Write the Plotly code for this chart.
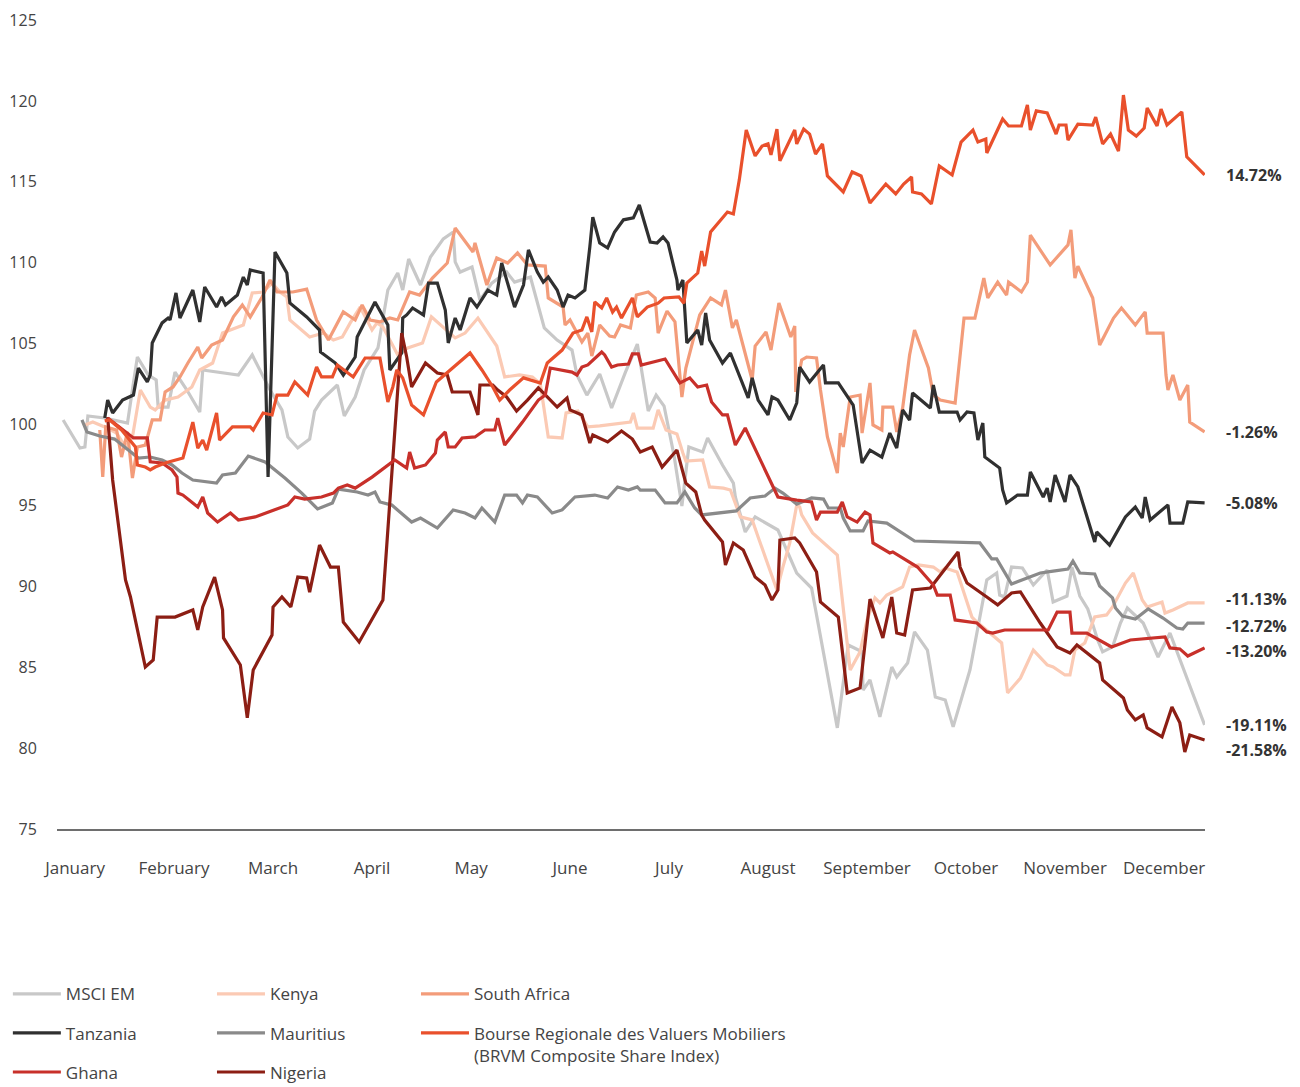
import plotly.graph_objects as go

# ---------------- data (x = month position, 0 = January ... 11 = December; y = index level) -------------
months = ["January", "February", "March", "April", "May", "June", "July",
          "August", "September", "October", "November", "December"]

msci_t = [-0.12,-0.03,0.05,0.10,0.13,0.30,0.53,0.59,0.63,0.74,0.82,0.84,0.94,1.01,1.13,1.26,1.29,1.65,1.79,1.97,2.09,2.15,2.25,2.37,2.42,2.49,2.65,2.72,2.83,2.92,3.06,3.16,3.26,3.31,3.37,3.49,3.59,3.72,3.82,3.84,3.89,4.01,4.09,4.21,4.36,4.44,4.60,4.74,4.87,5.02,5.07,5.17,5.30,5.42,5.56,5.68,5.79,5.87,5.95,6.05,6.13,6.20,6.34,6.39,6.54,6.65,6.67,6.77,6.87,7.10,7.29,7.44,7.70,7.81,7.95,7.96,8.03,8.13,8.25,8.30,8.41,8.48,8.61,8.69,8.79,8.87,9.04,9.21,9.31,9.34,9.39,9.46,9.57,9.68,9.82,9.88,10.02,10.07,10.15,10.23,10.33,10.38,10.48,10.56,10.63,10.79,10.94,11.06,11.41]
msci_v = [100.28,99.35,98.55,98.61,100.53,100.4,100.09,102.57,104.17,103.06,102.75,101.08,101.08,103.24,102.13,100.77,103.37,103.06,104.3,102.13,100.9,99.23,98.55,99.1,100.83,101.51,102.44,100.53,101.7,103.37,104.73,108.31,109.36,108.31,110.23,108.62,110.35,111.47,111.9,110.05,109.42,109.73,107.69,108.74,109.42,108.8,109.11,105.97,105.22,104.6,103.06,101.82,103.12,101.02,103.24,104.97,100.83,101.82,101.14,98.11,94.96,98.61,98.3,99.17,97.5,96.38,95.52,93.36,94.29,93.48,90.82,89.89,81.25,86.37,85.95,83.59,84.21,81.93,85.01,84.39,85.26,87.18,86.06,83.16,82.97,81.31,84.83,90.39,90.82,89.46,89.34,91.19,91.13,90.08,91.01,89.03,89.4,91.19,89.4,88.6,86.68,85.95,86.25,87.73,88.66,87.73,85.63,87.11,81.43]

kenya_t = [0.10,0.18,0.30,0.42,0.51,0.58,0.66,0.76,0.81,0.91,1.04,1.18,1.26,1.39,1.49,1.70,1.79,1.90,1.99,2.07,2.14,2.17,2.37,2.51,2.61,2.70,2.78,2.88,3.00,3.05,3.11,3.26,3.36,3.51,3.60,3.72,3.84,3.94,4.07,4.26,4.34,4.49,4.62,4.70,4.78,4.92,4.96,5.08,5.18,5.30,5.53,5.61,5.64,5.68,5.84,5.89,5.97,6.08,6.14,6.17,6.34,6.41,6.55,6.62,6.72,6.84,6.90,7.09,7.15,7.22,7.29,7.32,7.34,7.45,7.70,7.83,7.93,8.00,8.08,8.13,8.20,8.36,8.43,8.52,8.67,8.74,8.79,8.91,8.97,9.06,9.11,9.36,9.42,9.55,9.68,9.82,9.88,10.00,10.05,10.10,10.20,10.30,10.42,10.48,10.61,10.69,10.78,10.83,10.98,11.01,11.09,11.24,11.41]
kenya_v = [99.97,100.15,99.85,99.47,98.61,99.23,102.13,101.08,100.9,101.51,101.7,102.32,103.37,103.8,105.65,106.15,108.13,108.19,108.74,108.19,107.88,106.46,105.41,105.65,105.22,105.41,106.28,107.26,105.84,106.28,106.03,104.3,104.73,105.04,106.65,106.03,105.35,105.65,106.58,104.85,102.94,103.06,102.94,102.51,99.23,99.17,100.71,100.83,99.85,99.91,100.09,100.15,100.71,99.78,99.78,100.9,99.66,99.41,98.24,97.74,97.81,96.14,96.07,95.95,94.29,94.1,93.05,89.77,91.19,92.68,95.03,94.9,94.41,93.3,91.93,84.83,85.95,87.92,89.28,88.97,89.46,89.96,91.19,91.32,91.19,90.88,91.13,90.88,89.77,88.1,87.79,86.5,83.41,84.33,86.06,85.14,85.01,84.52,84.52,86.06,86.5,88.1,88.23,88.72,90.2,90.82,89.15,88.72,89.03,88.35,88.54,88.97,88.97]

safrica_t = [0.25,0.28,0.31,0.42,0.47,0.53,0.58,0.63,0.71,0.78,0.86,0.91,0.99,1.06,1.14,1.24,1.28,1.38,1.49,1.60,1.69,1.77,1.89,1.97,2.04,2.20,2.34,2.44,2.56,2.63,2.71,2.83,2.90,2.98,3.08,3.18,3.26,3.38,3.48,3.61,3.76,3.84,3.91,4.02,4.04,4.16,4.26,4.37,4.47,4.57,4.75,4.78,4.93,4.95,5.00,5.12,5.18,5.22,5.30,5.40,5.45,5.51,5.61,5.67,5.79,5.86,5.89,5.98,6.06,6.13,6.17,6.31,6.42,6.53,6.57,6.64,6.68,6.84,6.87,6.98,7.03,7.11,7.23,7.27,7.28,7.34,7.39,7.49,7.53,7.60,7.70,7.73,7.76,7.83,7.93,7.95,8.03,8.06,8.15,8.16,8.26,8.30,8.36,8.43,8.48,8.62,8.67,8.74,8.89,8.98,9.09,9.18,9.22,9.32,9.41,9.43,9.56,9.62,9.65,9.85,10.03,10.06,10.10,10.13,10.28,10.35,10.49,10.57,10.71,10.81,10.83,10.99,11.02,11.04,11.09,11.16,11.24,11.26,11.41]
safrica_v = [99.66,96.76,99.85,99.66,97.99,99.54,96.69,98.61,98.73,100.28,100.28,102.01,102.32,102.94,103.8,104.79,104.11,104.91,105.22,106.65,107.39,106.65,107.88,108.93,108.19,108.19,108.37,106.46,105.22,106.03,106.96,106.46,107.39,106.46,106.34,106.58,106.46,108.19,108.0,109.05,109.98,112.14,111.59,110.66,111.22,108.62,110.29,109.98,110.6,109.86,109.79,107.82,107.26,106.15,106.46,105.1,105.65,104.23,106.15,105.47,105.41,106.15,105.97,108.0,108.19,107.82,105.65,107.01,106.34,101.7,103.49,106.77,107.82,107.39,108.31,105.97,106.46,102.75,104.85,105.72,104.6,107.51,105.41,106.09,102.01,103.99,104.17,104.11,102.13,99.23,97.0,99.47,98.61,101.7,101.82,99.47,102.57,99.97,99.66,101.08,101.08,99.54,101.02,104.3,105.84,103.49,101.82,101.51,101.33,106.58,106.58,109.05,107.82,108.8,108.0,108.8,108.19,108.8,111.71,109.86,111.1,112.03,109.05,109.79,107.82,104.91,106.58,107.2,106.15,106.96,105.65,105.65,103.06,102.13,103.06,101.51,102.44,100.15,99.54]

mauritius_t = [0.07,0.12,0.25,0.40,0.64,0.76,0.88,0.98,1.08,1.19,1.43,1.49,1.62,1.75,1.92,2.12,2.29,2.45,2.60,2.66,2.85,2.96,3.03,3.08,3.20,3.40,3.49,3.66,3.82,3.94,4.04,4.11,4.24,4.34,4.46,4.52,4.57,4.67,4.82,4.92,5.05,5.25,5.38,5.48,5.59,5.68,5.71,5.86,5.96,6.08,6.16,6.26,6.33,6.68,6.82,6.97,7.07,7.15,7.29,7.44,7.56,7.61,7.73,7.76,7.83,7.96,8.01,8.20,8.48,9.14,9.26,9.31,9.46,9.75,9.88,10.03,10.08,10.15,10.30,10.35,10.48,10.51,10.58,10.71,10.84,10.99,11.13,11.19,11.24,11.41]
mauritius_v = [100.28,99.54,99.29,99.1,97.93,97.99,97.81,97.5,97.0,96.57,96.38,96.88,97.0,98.05,97.68,96.69,95.76,94.78,95.15,96.01,95.83,95.64,95.83,95.21,95.02,93.97,94.22,93.6,94.72,94.53,94.22,94.84,93.97,95.64,95.64,95.15,95.64,95.52,94.53,94.72,95.52,95.64,95.46,96.14,95.95,96.14,95.95,95.95,95.15,95.15,95.83,94.84,94.41,94.66,95.46,95.58,96.07,95.76,95.08,95.46,95.39,94.84,94.84,94.22,93.42,93.42,94.04,93.91,92.8,92.68,91.69,91.69,90.14,90.82,90.94,91.07,91.56,90.82,90.76,90.02,89.28,88.66,88.16,87.98,88.6,88.04,87.42,87.36,87.73,87.73]

tanzania_t = [0.30,0.33,0.38,0.48,0.59,0.64,0.73,0.76,0.78,0.88,0.94,0.96,1.02,1.06,1.19,1.26,1.31,1.43,1.48,1.52,1.64,1.70,1.74,1.77,1.90,1.95,2.02,2.14,2.17,2.34,2.47,2.48,2.63,2.71,2.83,2.85,3.03,3.16,3.18,3.30,3.31,3.35,3.41,3.52,3.57,3.66,3.74,3.77,3.84,3.89,3.99,4.06,4.17,4.26,4.31,4.37,4.44,4.53,4.58,4.67,4.73,4.78,4.87,4.93,4.98,5.05,5.15,5.20,5.23,5.30,5.38,5.45,5.54,5.64,5.70,5.81,5.88,5.94,5.99,6.08,6.09,6.14,6.18,6.29,6.33,6.37,6.41,6.54,6.62,6.80,6.84,6.90,7.00,7.04,7.10,7.22,7.29,7.32,7.42,7.56,7.58,7.71,7.86,7.95,8.03,8.15,8.23,8.30,8.36,8.43,8.46,8.64,8.67,8.73,8.91,8.94,9.01,9.08,9.12,9.17,9.19,9.34,9.37,9.41,9.52,9.62,9.65,9.78,9.82,9.85,9.90,10.00,10.05,10.13,10.30,10.32,10.45,10.61,10.71,10.78,10.81,10.86,11.04,11.06,11.19,11.24,11.41]
tanzania_v = [100.4,101.51,100.71,101.51,101.82,103.49,102.63,103.06,105.04,106.28,106.58,106.46,108.13,106.58,108.31,106.34,108.5,107.26,107.88,107.39,108.0,109.11,108.62,109.55,109.36,96.76,110.66,109.36,107.51,106.65,105.84,104.48,103.8,103.06,104.17,105.41,107.57,106.15,103.37,104.42,106.58,106.77,107.2,106.77,108.74,108.74,107.08,105.04,106.58,105.84,107.82,107.26,108.31,108.0,109.98,108.8,107.26,108.62,110.79,109.42,108.8,109.11,108.31,107.26,108.0,107.82,108.31,110.97,112.82,111.22,110.91,111.9,112.65,112.77,113.57,111.28,111.22,111.59,111.22,108.93,108.31,108.93,105.04,105.84,104.91,106.89,105.22,103.8,104.42,101.64,102.88,101.51,100.59,101.7,101.51,100.28,101.33,103.55,102.63,103.68,102.57,102.57,101.2,97.62,98.42,97.99,99.47,98.55,100.9,100.28,101.95,101.02,102.44,100.77,100.77,100.28,100.77,100.71,99.04,100.09,97.99,97.31,95.95,95.15,95.64,95.64,97.06,95.52,96.07,95.21,96.88,95.21,96.88,96.14,92.74,93.36,92.55,94.29,94.9,94.22,95.52,94.1,95.03,93.91,93.91,95.21,95.15]

nigeria_t = [0.33,0.38,0.51,0.56,0.71,0.79,0.83,1.01,1.19,1.24,1.29,1.41,1.49,1.50,1.67,1.74,1.80,1.99,2.00,2.09,2.18,2.25,2.34,2.37,2.47,2.58,2.66,2.71,2.87,3.11,3.30,3.35,3.40,3.54,3.66,3.76,3.81,3.99,4.07,4.09,4.22,4.27,4.36,4.46,4.57,4.68,4.77,4.87,4.97,5.00,5.12,5.20,5.23,5.38,5.52,5.63,5.71,5.83,5.93,6.08,6.17,6.27,6.33,6.36,6.54,6.57,6.65,6.75,6.87,6.97,7.04,7.10,7.12,7.27,7.32,7.49,7.53,7.71,7.80,7.93,8.03,8.16,8.25,8.30,8.38,8.46,8.64,8.92,8.94,9.01,9.21,9.32,9.46,9.55,9.75,9.92,10.05,10.12,10.35,10.38,10.59,10.63,10.71,10.79,10.83,10.98,11.08,11.16,11.21,11.26,11.41]
nigeria_v = [100.46,96.57,90.39,89.34,85.01,85.45,88.1,88.1,88.54,87.3,88.72,90.57,88.54,86.81,85.14,81.87,84.83,86.99,88.72,89.34,88.72,90.57,90.51,89.64,92.55,91.19,91.19,87.79,86.56,89.15,105.65,104.17,102.32,103.8,103.18,103.06,102.01,102.01,100.59,102.44,102.44,102.13,101.7,100.83,101.51,102.26,101.7,101.08,101.64,100.9,100.59,98.86,99.35,98.92,99.6,99.1,98.3,98.61,97.37,98.42,96.38,95.83,94.41,94.1,92.74,91.32,92.68,92.24,90.57,90.08,89.15,89.77,92.86,92.99,92.68,90.88,89.03,88.1,83.41,83.72,89.21,86.81,89.34,87.11,86.99,89.77,89.89,92.12,91.19,90.2,89.34,88.85,89.59,89.65,87.73,86.25,85.88,86.37,85.26,84.21,83.1,82.36,81.74,82.05,81.25,80.69,82.54,81.56,79.76,80.81,80.5]

ghana_t = [0.33,0.59,0.73,0.76,0.88,0.98,1.03,1.04,1.09,1.24,1.29,1.34,1.44,1.57,1.65,1.82,2.15,2.22,2.32,2.49,2.61,2.66,2.75,2.83,3.00,3.23,3.35,3.38,3.43,3.54,3.64,3.66,3.74,3.77,3.84,3.91,4.04,4.14,4.24,4.27,4.34,4.52,4.68,4.75,4.80,4.92,5.02,5.07,5.12,5.18,5.32,5.35,5.42,5.48,5.59,5.63,5.69,5.72,5.96,6.11,6.21,6.29,6.38,6.43,6.54,6.59,6.67,6.77,6.90,7.07,7.10,7.29,7.44,7.49,7.53,7.70,7.75,7.80,7.90,7.98,8.03,8.06,8.23,8.26,8.51,8.67,8.71,8.84,8.89,9.11,9.21,9.27,9.39,9.83,9.92,10.05,10.07,10.22,10.47,10.66,11.01,11.06,11.16,11.24,11.41]
ghana_v = [100.4,99.17,99.17,97.69,97.62,97.19,96.75,95.76,95.64,94.9,95.52,94.53,93.97,94.53,94.1,94.29,95.03,95.52,95.39,95.52,95.76,96.07,96.26,96.07,96.75,97.81,97.31,98.3,97.31,97.5,98.24,99.04,99.54,98.61,98.61,99.17,99.23,99.66,99.66,100.4,98.73,100.15,101.51,101.82,103.49,103.37,103.24,103.06,103.55,103.68,104.48,104.3,103.55,103.68,103.74,104.36,104.36,103.68,104.05,102.57,102.88,102.32,102.44,101.39,100.59,100.59,98.73,99.78,98.11,95.95,95.52,95.33,95.21,94.1,94.59,94.59,95.21,94.29,93.97,94.59,94.41,92.68,92.06,92.12,91.19,90.08,89.46,89.46,87.92,87.73,87.18,87.11,87.3,87.3,88.41,88.41,87.11,87.11,86.25,86.68,86.87,86.19,86.13,85.69,86.19]

brvm_t = [0.30,0.35,0.47,0.61,0.63,0.71,0.76,0.81,0.91,1.03,1.09,1.19,1.24,1.29,1.33,1.43,1.46,1.59,1.77,1.80,1.90,1.99,2.04,2.15,2.22,2.35,2.44,2.49,2.60,2.65,2.81,2.93,3.08,3.16,3.21,3.25,3.31,3.40,3.52,3.65,3.79,3.94,3.99,4.11,4.22,4.29,4.39,4.53,4.70,4.77,4.92,5.03,5.12,5.17,5.22,5.25,5.32,5.37,5.43,5.47,5.52,5.63,5.68,5.78,5.89,5.95,6.10,6.15,6.18,6.29,6.33,6.36,6.42,6.59,6.65,6.71,6.78,6.87,6.94,7.00,7.03,7.09,7.12,7.27,7.29,7.36,7.42,7.48,7.55,7.60,7.76,7.85,7.94,8.03,8.19,8.29,8.37,8.45,8.46,8.55,8.65,8.73,8.86,8.95,9.07,9.12,9.20,9.21,9.37,9.43,9.56,9.62,9.65,9.71,9.82,9.91,9.94,10.01,10.03,10.13,10.28,10.31,10.38,10.46,10.54,10.59,10.64,10.72,10.80,10.83,10.93,10.97,11.03,11.18,11.23,11.41]
brvm_v = [100.22,100.28,99.66,98.61,97.5,97.37,97.19,97.37,97.62,97.81,97.93,100.15,98.54,99.04,98.42,100.71,99.04,99.85,99.85,99.66,100.71,100.59,101.82,101.82,102.63,101.82,103.55,102.94,102.94,103.68,102.94,104.11,104.11,101.39,102.32,103.37,102.88,101.2,100.59,102.63,103.37,104.17,104.42,103.37,102.32,101.51,102.13,102.88,102.57,103.8,104.6,105.65,105.84,106.65,105.72,107.57,107.2,107.82,106.95,107.26,106.58,107.82,106.65,107.26,107.5,107.82,107.88,107.5,108.74,109.36,110.72,109.79,111.9,113.13,113.01,115.12,118.2,116.6,117.21,117.34,116.66,118.26,116.29,118.2,117.34,118.26,117.95,116.72,117.34,115.36,114.37,115.61,115.36,113.69,114.86,114.25,114.86,115.3,114.37,114.25,113.63,115.98,115.42,117.46,118.2,117.46,117.65,116.78,118.88,118.45,118.45,119.75,118.2,119.38,119.26,117.95,118.51,118.51,117.58,118.57,118.51,119.0,117.34,117.95,116.9,120.36,118.2,117.83,118.32,119.56,118.45,119.5,118.51,119.32,116.54,115.42]

series_names = ["MSCI EM", "Kenya", "South Africa", "Mauritius", "Tanzania", "Nigeria", "Ghana",
                "Bourse Regionale des Valuers Mobiliers<br>(BRVM Composite Share Index)"]
change_labels = ["-19.11%", "-11.13%", "-1.26%", "-12.72%", "-5.08%", "-21.58%", "-13.20%", "14.72%"]

# ---------------- styling ----------------
colors = ["#c8c8c8", "#fbcab4", "#f39c7a", "#8a8a8a", "#303030", "#8c1e14", "#c8302a", "#e9502c"]
legend_of = ["legend", "legend2", "legend3", "legend2", "legend", "legend2", "legend", "legend3"]
label_shift = [0, 4, 0, -3, 0, -10, -3, 0]
FONT = "Open Sans"
TXT = "#444444"

xs = [msci_t, kenya_t, safrica_t, mauritius_t, tanzania_t, nigeria_t, ghana_t, brvm_t]
ys = [msci_v, kenya_v, safrica_v, mauritius_v, tanzania_v, nigeria_v, ghana_v, brvm_v]
for a, b in zip(xs, ys):
    assert len(a) == len(b), (len(a), len(b))

fig = go.Figure()
for i in range(len(series_names)):
    fig.add_trace(go.Scatter(
        x=xs[i], y=ys[i], mode="lines", name=series_names[i],
        line=dict(color=colors[i], width=3.2),
        legend=legend_of[i], legendgroup="g%d" % i, hoverinfo="skip"))
    fig.add_annotation(
        x=xs[i][-1], y=ys[i][-1], text="<b>%s</b>" % change_labels[i],
        xanchor="left", yanchor="middle", showarrow=False, xshift=19, yshift=label_shift[i],
        font=dict(family=FONT, size=16, color="#333333"))

leg_common = dict(orientation="v", yanchor="top", xanchor="left", y=-0.182,
                  bgcolor="rgba(0,0,0,0)", font=dict(family=FONT, size=17, color=TXT),
                  itemwidth=48, tracegroupgap=14, traceorder="grouped")

fig.update_layout(
    width=1300, height=1087,
    margin=dict(l=57, r=95, t=20, b=258, autoexpand=False),
    paper_bgcolor="white", plot_bgcolor="white",
    font=dict(family=FONT, color=TXT),
    showlegend=True,
    legend=dict(x=-0.0428, **leg_common),
    legend2=dict(x=0.1350, **leg_common),
    legend3=dict(x=0.3127, valign="top", **leg_common),
    xaxis=dict(range=[-0.182, 11.414], tickmode="array", tickvals=list(range(12)), ticktext=months,
               showgrid=False, zeroline=False, showline=True, linecolor="#6e6e6e", linewidth=1.5,
               ticks="outside", ticklen=23, tickcolor="rgba(0,0,0,0)",
               tickfont=dict(family=FONT, size=17, color=TXT)),
    yaxis=dict(range=[75, 125], tickmode="array", tickvals=list(range(75, 126, 5)),
               showgrid=False, zeroline=False, showline=False,
               ticks="outside", ticklen=16, tickcolor="rgba(0,0,0,0)",
               tickfont=dict(family=FONT, size=16, color=TXT)),
)

fig.write_html("out.html", config={"displayModeBar": False},
               post_script="document.body.style.margin='0px';")
